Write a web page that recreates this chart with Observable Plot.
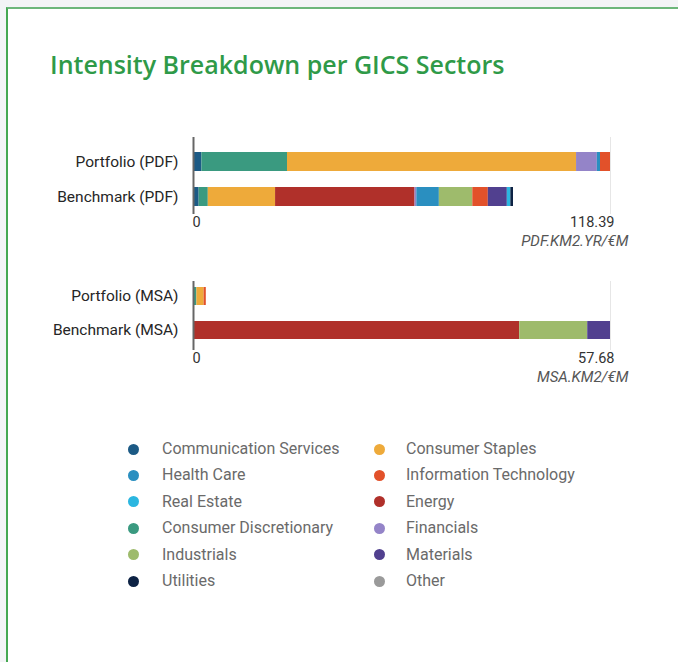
<!DOCTYPE html>
<html>
<head>
<meta charset="utf-8">
<script src="https://cdn.jsdelivr.net/npm/d3@7"></script>
<script src="https://cdn.jsdelivr.net/npm/@observablehq/plot@0.6"></script>
<style>
  html, body { margin: 0; padding: 0; }
  body { width: 678px; height: 662px; background: #f3f4f6; position: relative; overflow: hidden; font-family: Roboto, sans-serif; }
  #card { position: absolute; left: 6px; top: 7px; width: 720px; height: 720px; background: #fff; border-left: 2px solid #45a852; border-top: 2px solid #6db67a; }
  #title { position: absolute; left: 50px; top: 52px; font-family: "Open Sans", sans-serif; font-weight: 600; font-size: 25px; line-height: 25px; color: #2f9a48; white-space: nowrap; }
  .chart { position: absolute; left: 0; }
  .chart svg { display: block; }
  .lg-dot { position: absolute; width: 11px; height: 11px; border-radius: 50%; }
  .lg-text { position: absolute; font-family: Roboto, sans-serif; font-size: 16px; line-height: 18px; color: #6a6a6a; white-space: nowrap; }
</style>
</head>
<body>
<div id="card"></div>
<div id="title">Intensity Breakdown per GICS Sectors</div>
<div id="chart1" class="chart" style="top:130px"></div>
<div id="chart2" class="chart" style="top:270px"></div>
<div id="legend"></div>
<script>
// ---- data ----
const sectors = ["Communication Services", "Consumer Discretionary", "Consumer Staples", "Energy", "Financials", "Health Care", "Industrials", "Information Technology", "Materials", "Real Estate", "Utilities", "Other"];
const sectorColors = ["#1c5a85", "#3a9a80", "#eeaa3a", "#b0302a", "#9484c8", "#2a8fc0", "#9ebb6c", "#e2512a", "#51408f", "#2bb6e0", "#0d2244", "#9a9a9a"];

const pdfRows = ["Portfolio (PDF)", "Benchmark (PDF)"];
const pdfPortfolio = [2.39, 24.3, 82.06, 0, 5.9, 0.9, 0, 2.84, 0, 0, 0, 0];
const pdfBenchmark = [1.6, 2.6, 19.1, 39.6, 0.5, 6.4, 9.5, 4.4, 5.4, 1.0, 0.75, 0];
const pdfTicks = [0, 118.39];
const pdfUnit = "PDF.KM2.YR/€M";

const msaRows = ["Portfolio (MSA)", "Benchmark (MSA)"];
const msaPortfolio = [0, 0.47, 1.0, 0, 0, 0, 0, 0.3, 0, 0, 0, 0];
const msaBenchmark = [0, 0, 0, 45.12, 0, 0, 9.41, 0, 3.15, 0, 0, 0];
const msaTicks = [0, 57.68];
const msaUnit = "MSA.KM2/€M";

const legendOrder = [
  "Communication Services", "Consumer Staples",
  "Health Care", "Information Technology",
  "Real Estate", "Energy",
  "Consumer Discretionary", "Financials",
  "Industrials", "Materials",
  "Utilities", "Other"
];

// ---- chart builder ----
function stackedChart({rows, values, ticks, unit, height, marginTop, marginBottom, yRange}) {
  const data = [];
  rows.forEach((r, i) => sectors.forEach((s, j) => {
    if (values[i][j] > 0) data.push({row: r, sector: s, value: values[i][j]});
  }));
  const max = ticks[ticks.length - 1];
  return Plot.plot({
    width: 678,
    height,
    marginLeft: 193,
    marginRight: 68,
    marginTop,
    marginBottom,
    style: {fontFamily: "Roboto, sans-serif", background: "transparent", overflow: "visible"},
    x: {domain: [0, max], axis: null},
    y: {domain: rows, range: yRange, paddingInner: 0.47, paddingOuter: 0},
    color: {domain: sectors, range: sectorColors},
    marks: [
      Plot.ruleX([max], {stroke: "#e6e6e6", strokeWidth: 1}),
      Plot.barX(data, Plot.stackX({x: "value", y: "row", fill: "sector"})),
      Plot.ruleX([0], {stroke: "#666", strokeWidth: 2}),
      Plot.axisY({tickSize: 0, tickPadding: 15, fontSize: 15.5, color: "#262626", label: null}),
      Plot.text([ticks[0]], {x: d => d, frameAnchor: "bottom", dy: 12, dx: -1, textAnchor: "start", fontSize: 14.5, fill: "#333", text: d => String(d)}),
      Plot.text([max], {x: d => d, frameAnchor: "bottom", dy: 12, dx: 4, textAnchor: "end", fontSize: 14.5, fill: "#333", text: d => d.toFixed(2)}),
      Plot.text([unit], {x: () => max, frameAnchor: "bottom", dy: 31, dx: 18, textAnchor: "end", fontSize: 15, fontStyle: "italic", fill: "#555", text: d => d})
    ]
  });
}

document.getElementById("chart1").append(stackedChart({
  rows: pdfRows, values: [pdfPortfolio, pdfBenchmark], ticks: pdfTicks, unit: pdfUnit,
  height: 130, marginTop: 7, marginBottom: 46, yRange: [21, 76]
}));
document.getElementById("chart2").append(stackedChart({
  rows: msaRows, values: [msaPortfolio, msaBenchmark], ticks: msaTicks, unit: msaUnit,
  height: 130, marginTop: 11, marginBottom: 50, yRange: [16.7, 69.3]
}));

// ---- legend ----
const legend = document.getElementById("legend");
legendOrder.forEach((name, i) => {
  const col = i % 2, row = Math.floor(i / 2);
  const cy = 449 + row * 26.4;
  const dotX = col === 0 ? 133 : 379;
  const textX = col === 0 ? 162 : 406;
  const dot = document.createElement("div");
  dot.className = "lg-dot";
  dot.style.left = (dotX - 5.5) + "px";
  dot.style.top = (cy - 5.5) + "px";
  dot.style.background = sectorColors[sectors.indexOf(name)];
  const t = document.createElement("div");
  t.className = "lg-text";
  t.style.left = textX + "px";
  t.style.top = (cy - 9) + "px";
  t.textContent = name;
  legend.append(dot, t);
});
</script>
</body>
</html>
